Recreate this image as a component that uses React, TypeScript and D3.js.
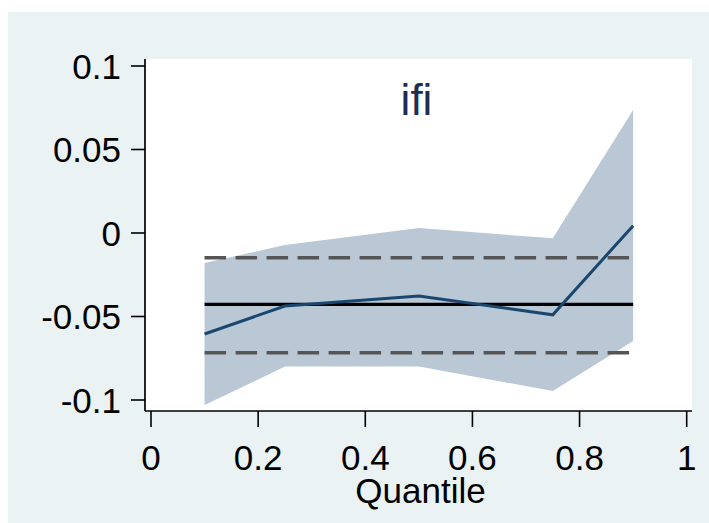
import React from "react";
import * as d3 from "d3";

const quantiles = [0.1, 0.25, 0.5, 0.75, 0.9];
const coef = [-0.0605, -0.0437, -0.0377, -0.049, 0.0044];
const upper = [-0.018, -0.0072, 0.003, -0.0032, 0.0737];
const lower = [-0.103, -0.08, -0.08, -0.0946, -0.0647];
const olsCoef = -0.0427;
const olsUpper = -0.0148;
const olsLower = -0.0717;
const xTicks = [0, 0.2, 0.4, 0.6, 0.8, 1];
const yTicks = [-0.1, -0.05, 0, 0.05, 0.1];
const title = "ifi";
const xTitle = "Quantile";

const W = 709;
const H = 523;
const FONT = "'Liberation Sans', Arial, Helvetica, sans-serif";

export default function App() {
  const x = d3.scaleLinear().domain([0, 1]).range([151, 686.7]);
  const y = d3.scaleLinear().domain([-0.1, 0.1]).range([400, 66]);
  const plotL = 145, plotR = 692, plotT = 59, plotB = 411;

  const rows = quantiles.map((q, i) => ({ q, c: coef[i], u: upper[i], l: lower[i] }));
  const area = d3
    .area<any>()
    .x((d) => x(d.q))
    .y0((d) => y(d.l))
    .y1((d) => y(d.u));
  const line = d3
    .line<any>()
    .x((d) => x(d.q))
    .y((d) => y(d.c));

  const qMin = quantiles[0];
  const qMax = quantiles[quantiles.length - 1];

  return (
    <svg
      width={W}
      height={H}
      style={{ position: "absolute", left: 0, top: 0, display: "block" }}
    >
      <rect x={0} y={0} width={W} height={H} fill="#ffffff" />
      <rect x={8} y={12} width={W - 8} height={H - 12} fill="#EAF2F3" />
      <rect x={plotL} y={plotT} width={plotR - plotL} height={plotB - plotT} fill="#ffffff" />

      <path d={area(rows) || ""} fill="#B9C8D4" stroke="none" />

      {[olsUpper, olsLower].map((v, i) => (
        <line
          key={i}
          x1={x(qMin)}
          x2={x(qMax)}
          y1={y(v)}
          y2={y(v)}
          stroke="#555555"
          strokeWidth={3.6}
          strokeDasharray="21.5 9.5"
        />
      ))}
      <line
        x1={x(qMin)}
        x2={x(qMax)}
        y1={y(olsCoef)}
        y2={y(olsCoef)}
        stroke="#000000"
        strokeWidth={3.2}
      />
      <path d={line(rows) || ""} fill="none" stroke="#1A476F" strokeWidth={3} strokeLinejoin="miter" />

      {/* axes */}
      <line x1={plotL} x2={plotL} y1={plotT} y2={plotB} stroke="#000" strokeWidth={1.7} />
      <line x1={plotL} x2={plotR} y1={plotB} y2={plotB} stroke="#000" strokeWidth={1.7} />

      {yTicks.map((t) => (
        <g key={"y" + t}>
          <line x1={131} x2={plotL} y1={y(t)} y2={y(t)} stroke="#000" strokeWidth={1.6} />
          <text
            x={121}
            y={y(t) + 12.5}
            textAnchor="end"
            fontFamily={FONT}
            fontSize={35}
            fill="#000"
          >
            {t === 0 ? "0" : String(t)}
          </text>
        </g>
      ))}

      {xTicks.map((t) => (
        <g key={"x" + t}>
          <line x1={x(t)} x2={x(t)} y1={plotB} y2={427} stroke="#000" strokeWidth={1.6} />
          <text
            x={x(t)}
            y={470}
            textAnchor="middle"
            fontFamily={FONT}
            fontSize={35}
            fill="#000"
          >
            {String(t)}
          </text>
        </g>
      ))}

      <text
        x={(plotL + plotR) / 2 + 2}
        y={503}
        textAnchor="middle"
        fontFamily={FONT}
        fontSize={35}
        fill="#000"
      >
        {xTitle}
      </text>

      <text
        x={(plotL + plotR) / 2 - 2}
        y={115}
        textAnchor="middle"
        fontFamily={FONT}
        fontSize={44}
        fill="#1E2D53"
      >
        {title}
      </text>
    </svg>
  );
}
